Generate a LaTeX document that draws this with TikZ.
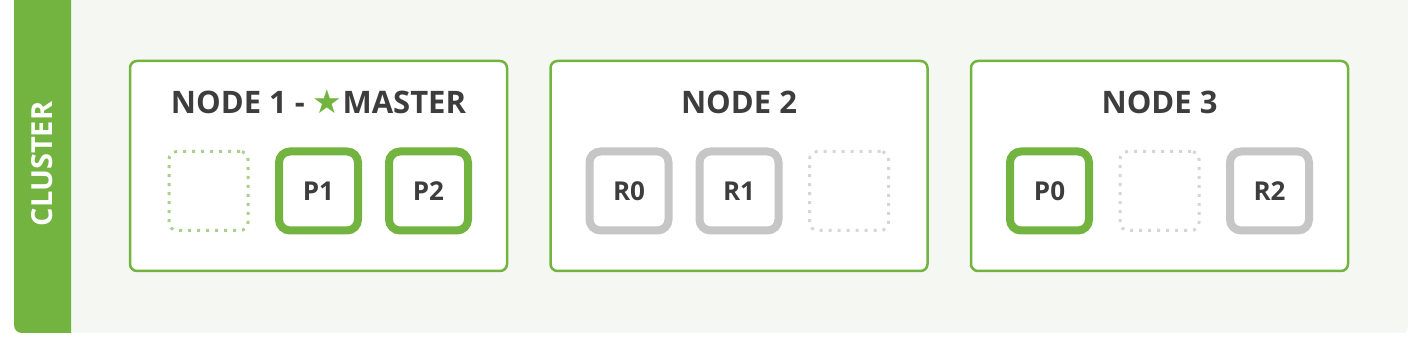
\documentclass[tikz,border=0pt]{standalone}
\usepackage{fontspec}
\setmainfont{Open Sans}
\newfontfamily\symfont{DejaVu Sans}
\usetikzlibrary{positioning}

\definecolor{esgreen}{HTML}{72B43F}
\definecolor{esgray}{HTML}{C6C6C6}
\definecolor{estext}{HTML}{3D3D3D}
\definecolor{esback}{HTML}{F5F7F3}
\definecolor{esdotgreen}{HTML}{A9D18E}
\definecolor{esdotgray}{HTML}{D6D6D6}

\tikzset{
  esnode/.style={draw=esgreen,line width=2.5pt,fill=white,rounded corners=7pt,
    minimum width=377pt,minimum height=210pt},
  nodetitle/.style={font=\bfseries\fontsize{31}{31}\selectfont,text=estext,anchor=base},
  shardp/.style={draw=esgreen,line width=8pt,fill=white,rounded corners=11pt,
    minimum size=79pt,inner sep=0pt,on grid,
    font=\bfseries\fontsize{26}{26}\selectfont,text=estext},
  shardr/.style={shardp,draw=esgray},
  slot/.style={draw=esdotgray,line width=3pt,dash pattern=on 3pt off 6pt,
    rounded corners=8pt,minimum size=79pt,on grid}
}

\begin{document}
\begin{tikzpicture}[x=1pt,y=1pt]
  \useasboundingbox (0,0) rectangle (1416,352);
  % cluster background and side bar
  \fill[esback,rounded corners=5pt] (14,19) rectangle (1408,362);
  \fill[esgreen] (71,352) -- (71,19) -- (22,19) arc[start angle=270,end angle=180,radius=8]
    -- (14,352) -- cycle;
  \node[rotate=90,text=white,font=\bfseries\fontsize{29}{29}\selectfont] (cluster) at (42.5,188) {CLUSTER};

  % the three nodes
  \node[esnode] (node1) at (318.5,186) {};
  \node[esnode,right=41pt of node1] (node2) {};
  \node[esnode,right=41pt of node2] (node3) {};

  \node[nodetitle] (title1) at ([yshift=-54pt]node1.north)
    {NODE 1 - {\color{esgreen}\symfont\fontsize{33}{31}\selectfont ★}MASTER};
  \node[nodetitle] (title2) at ([yshift=-54pt]node2.north) {NODE 2};
  \node[nodetitle] (title3) at ([yshift=-54pt]node3.north) {NODE 3};

  % shards
  \node[shardp] (p1) at ([yshift=-25pt]node1.center) {P1};
  \node[slot,draw=esdotgreen,left=110pt of p1] (free1) {};
  \node[shardp,right=110pt of p1] (p2) {P2};

  \node[shardr] (r1) at ([yshift=-25pt]node2.center) {R1};
  \node[shardr,left=110pt of r1] (r0) {R0};
  \node[slot,right=110pt of r1] (free2) {};

  \node[slot] (free3) at ([yshift=-25pt]node3.center) {};
  \node[shardp,left=110pt of free3] (p0) {P0};
  \node[shardr,right=110pt of free3] (r2) {R2};
\end{tikzpicture}
\end{document}
